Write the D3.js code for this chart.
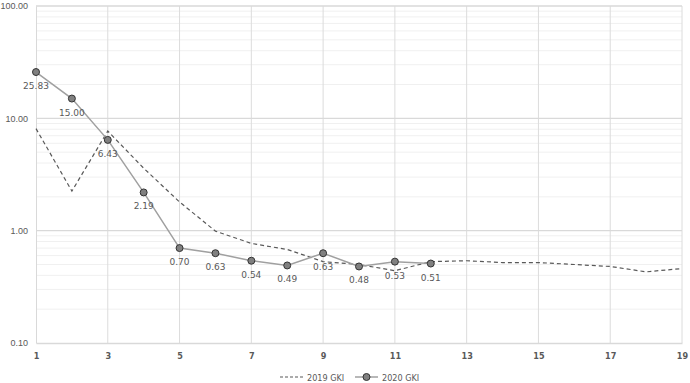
<!DOCTYPE html>
<html><head><meta charset="utf-8">
<script src="https://cdn.jsdelivr.net/npm/d3@7"></script>
<style>body{margin:0;background:#fff}svg{display:block}</style>
</head><body>
<svg id="c" width="690" height="383"></svg>
<script>
const xValues2019 = [1,2,3,4,5,6,7,8,9,10,11,12,13,14,15,16,17,18,19];
const gki2019 = [8.1,2.25,7.7,3.6,1.8,0.99,0.77,0.68,0.53,0.50,0.44,0.53,0.54,0.52,0.52,0.50,0.48,0.43,0.46];
const xValues2020 = [1,2,3,4,5,6,7,8,9,10,11,12];
const gki2020 = [25.83,15.00,6.43,2.19,0.70,0.63,0.54,0.49,0.63,0.48,0.53,0.51];
const xTicks = [1,3,5,7,9,11,13,15,17,19];
const yTicks = [0.1,1,10,100];
const seriesNames = ["2019 GKI","2020 GKI"];

const svg = d3.select("#c");
const L=36, R=682, T=6, B=343;
const x = d3.scaleLinear().domain([1,19]).range([L,R]);
const y = d3.scaleLog().domain([0.1,100]).range([B,T]);

// minor gridlines
const minor=[];
[0.1,1,10].forEach(d=>{for(let k=2;k<=9;k++) minor.push(d*k);});
svg.append("g").selectAll("line").data(minor).join("line")
  .attr("x1",L).attr("x2",R).attr("y1",d=>y(d)).attr("y2",d=>y(d))
  .attr("stroke","#f0f0f0").attr("stroke-width",1);
// vertical gridlines
svg.append("g").selectAll("line").data(xTicks.slice(1)).join("line")
  .attr("x1",d=>x(d)).attr("x2",d=>x(d)).attr("y1",T).attr("y2",B)
  .attr("stroke","#dcdcdc").attr("stroke-width",1);
// major gridlines
svg.append("g").selectAll("line").data(yTicks.slice(1)).join("line")
  .attr("x1",L).attr("x2",R).attr("y1",d=>y(d)).attr("y2",d=>y(d))
  .attr("stroke","#d9d9d9").attr("stroke-width",1.3);

// y axis
const yAxis = d3.axisLeft(y).tickValues(yTicks).tickFormat(d3.format(".2f")).tickSize(0).tickPadding(8);
const gy = svg.append("g").attr("transform",`translate(${L},0)`).call(yAxis);
gy.select(".domain").attr("stroke","#d9d9d9");
gy.selectAll("text").attr("font-family","Liberation Sans, Arial, sans-serif").attr("font-size",9).attr("fill","#595959");

// x axis
const xAxis = d3.axisBottom(x).tickValues(xTicks).tickFormat(d3.format("d")).tickSize(0).tickPadding(10);
const gx = svg.append("g").attr("transform",`translate(0,${B})`).call(xAxis);
gx.select(".domain").attr("stroke","#d9d9d9").attr("stroke-width",1.3);
gx.selectAll("text").attr("font-family","DejaVu Sans Condensed, Liberation Sans Narrow, sans-serif")
  .attr("font-size",9).attr("font-weight","bold").attr("fill","#595959");

// 2019 line
svg.append("path").datum(xValues2019.map((d,i)=>[d,gki2019[i]]))
  .attr("fill","none").attr("stroke","#595959").attr("stroke-width",1.2).attr("stroke-dasharray","4,3")
  .attr("d",d3.line().x(d=>x(d[0])).y(d=>y(d[1])));

// 2020 line
const d20 = xValues2020.map((d,i)=>[d,gki2020[i]]);
svg.append("path").datum(d20)
  .attr("fill","none").attr("stroke","#a0a0a0").attr("stroke-width",1.5)
  .attr("d",d3.line().x(d=>x(d[0])).y(d=>y(d[1])));
svg.append("g").selectAll("circle").data(d20).join("circle")
  .attr("cx",d=>x(d[0])).attr("cy",d=>y(d[1])).attr("r",3.5)
  .attr("fill","#808080").attr("stroke","#333").attr("stroke-width",1);
svg.append("g").selectAll("text").data(d20).join("text")
  .attr("x",d=>x(d[0])).attr("y",d=>y(d[1])+17).attr("text-anchor","middle")
  .attr("font-family","DejaVu Sans, sans-serif").attr("font-size",9).attr("fill","#595959")
  .text(d=>d3.format(".2f")(d[1]));

// legend
const lg = svg.append("g").attr("transform","translate(0,377)");
lg.append("line").attr("x1",280).attr("x2",303).attr("y1",0).attr("y2",0)
  .attr("stroke","#595959").attr("stroke-width",1.2).attr("stroke-dasharray","3,2");
lg.append("text").attr("x",307).attr("y",3.5).text(seriesNames[0]);
lg.append("line").attr("x1",355).attr("x2",378).attr("y1",0).attr("y2",0)
  .attr("stroke","#a0a0a0").attr("stroke-width",1.5);
lg.append("circle").attr("cx",366.5).attr("cy",0).attr("r",3.5).attr("fill","#808080").attr("stroke","#333");
lg.append("text").attr("x",382).attr("y",3.5).text(seriesNames[1]);
lg.selectAll("text").attr("font-family","DejaVu Sans Condensed, sans-serif").attr("font-size",9).attr("fill","#595959");
</script>
</body></html>
